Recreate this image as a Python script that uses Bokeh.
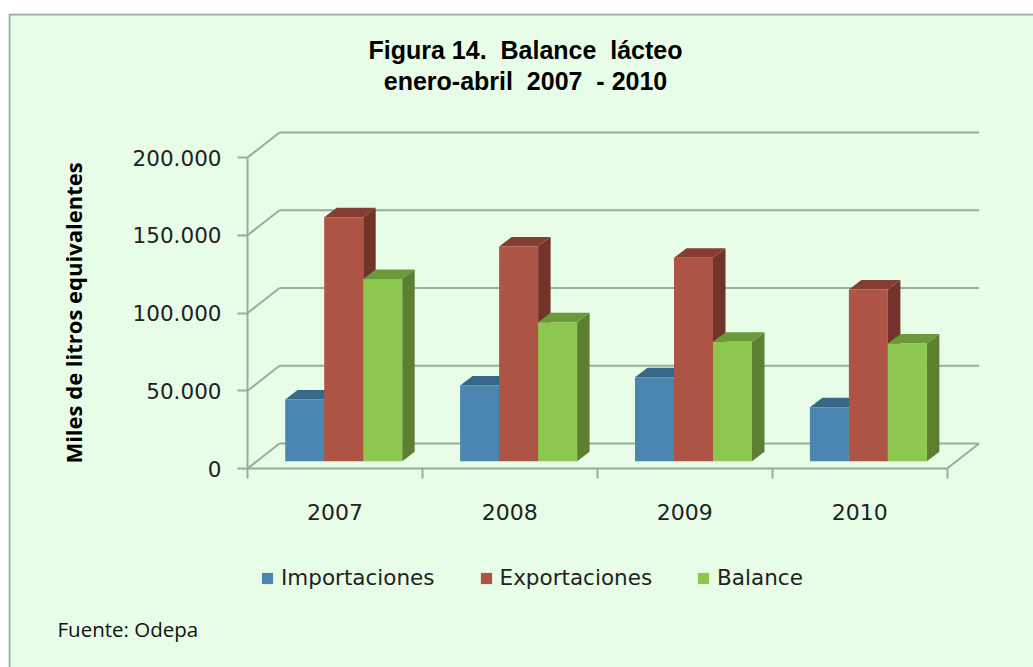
from bokeh.plotting import figure
from bokeh.embed import file_html
from bokeh.resources import INLINE
from bokeh.models import (Range1d, FixedTicker, LinearAxis, Label, Legend, LegendItem)

# ---- data ----
years = ["2007", "2008", "2009", "2010"]
importaciones = [39700, 48700, 54000, 34700]
exportaciones = [156900, 138100, 130800, 110400]
balance = [117200, 89400, 76800, 75700]
y_ticks = [0, 50000, 100000, 150000, 200000]
y_tick_labels = ["0", "50.000", "100.000", "150.000", "200.000"]
series_names = ["Importaciones", "Exportaciones", "Balance"]

# ---- styles and layout ----
BG = "#E8FDE8"
LINE = "#9AAD9A"
FRONT = ["#4A86AF", "#AE5445", "#8DC750"]
TOP = ["#376887", "#843D30", "#6A9A3A"]
SIDE = ["#376887", "#73332A", "#5D7F32"]
M_LEFT, M_TOP = 8, 13
CW, CH = 1025, 654
AXIS_PX_X, AXIS_PX_Y = 247 - M_LEFT, 468 - M_TOP   # where the axes cross, on the canvas
PX_X = 174.9           # pixels per category
PX_Y = 311 / 200000    # pixels per unit
WALL_DX, WALL_DY = 32 / PX_X, 25 / PX_Y
BAR_DX, BAR_DY = 12.5 / PX_X, 9.5 / PX_Y
BAR_W = 39 / PX_X
BAR_X0 = 37.7 / PX_X
BASE = 7.3 / PX_Y

x0, x1 = -AXIS_PX_X / PX_X, (CW - AXIS_PX_X) / PX_X
y0, y1 = -(CH - AXIS_PX_Y) / PX_Y, AXIS_PX_Y / PX_Y

p = figure(width=CW, height=CH, output_backend="svg", toolbar_location=None,
           x_range=Range1d(x0, x1), y_range=Range1d(y0, y1),
           x_axis_type=None, y_axis_type=None,
           min_border=0, background_fill_color=BG, border_fill_color=BG, outline_line_color=None)
p.margin = (M_TOP, 0, 0, M_LEFT)
p.grid.visible = False

# ---- frame's top and left edge ----
p.multi_line([[x0 + 1 / PX_X, x0 + 1 / PX_X, x1]], [[y0, y1 - 1 / PX_Y, y1 - 1 / PX_Y]],
             line_color=LINE, line_width=2)

# ---- axes ----
yax = LinearAxis(ticker=FixedTicker(ticks=y_ticks), bounds=(0, 200000), fixed_location=0,
                 major_label_overrides=dict(zip(y_ticks, y_tick_labels)),
                 axis_line_color=LINE, axis_line_width=2,
                 major_tick_line_color=LINE, major_tick_line_width=2,
                 major_tick_out=10, major_tick_in=0, minor_tick_out=0, minor_tick_in=0,
                 major_label_text_font="DejaVu Sans", major_label_text_font_size="21.5px",
                 major_label_text_color="#222222", major_label_standoff=16,
                 axis_label="Miles de litros equivalentes", axis_label_standoff=42,
                 axis_label_text_font="Open Sans", axis_label_text_font_style="bold",
                 axis_label_text_font_size="22px", axis_label_text_color="#000000")
p.add_layout(yax, "left")
n = len(years)
centers = [i + 0.5 for i in range(n)]
xax = LinearAxis(ticker=FixedTicker(ticks=centers, minor_ticks=list(range(n + 1))), bounds=(0, n),
                 fixed_location=0,
                 major_label_overrides=dict(zip(centers, years)),
                 axis_line_color=LINE, axis_line_width=2,
                 major_tick_out=0, major_tick_in=0,
                 minor_tick_line_color=LINE, minor_tick_line_width=2,
                 minor_tick_out=10, minor_tick_in=0,
                 major_label_text_font="DejaVu Sans", major_label_text_font_size="22px",
                 major_label_text_color="#222222", major_label_standoff=25)
p.add_layout(xax, "below")

# ---- back wall and floor ----
back_x = [[WALL_DX, n + WALL_DX] for _ in y_ticks]
back_y = [[t + WALL_DY, t + WALL_DY] for t in y_ticks]
diag_x = [[0, WALL_DX] for _ in y_ticks] + [[n, n + WALL_DX]]
diag_y = [[t, t + WALL_DY] for t in y_ticks] + [[0, WALL_DY]]
p.multi_line(back_x + diag_x, back_y + diag_y, line_color=LINE, line_width=2)

# ---- bars ----
items = []
for s, values in enumerate([importaciones, exportaciones, balance]):
    left = [i + BAR_X0 + s * BAR_W for i in range(n)]
    right = [x + BAR_W for x in left]
    top = [BASE + v for v in values]
    side_xs = [[r, r + BAR_DX, r + BAR_DX, r] for r in right]
    side_ys = [[BASE, BASE + BAR_DY, t + BAR_DY, t] for t in top]
    top_xs = [[l, l + BAR_DX, r + BAR_DX, r] for l, r in zip(left, right)]
    top_ys = [[t, t + BAR_DY, t + BAR_DY, t] for t in top]
    p.patches(side_xs, side_ys, fill_color=SIDE[s], line_color=None)
    p.patches(top_xs, top_ys, fill_color=TOP[s], line_color=None)
    front = p.quad(left=left, right=right, bottom=BASE, top=top,
                   fill_color=FRONT[s], line_color=None)
    items.append(LegendItem(label=series_names[s], renderers=[front]))

legend = Legend(items=items, orientation="horizontal", location=(260 - M_LEFT, M_TOP + CH - 590),
                background_fill_alpha=0, border_line_color=None,
                glyph_width=14, glyph_height=14, spacing=44, label_standoff=7,
                padding=0, margin=0,
                label_text_font="DejaVu Sans", label_text_font_size="21.5px",
                label_text_color="#222222")
p.add_layout(legend)

# ---- texts ----
def page_label(text, px, py, **kw):
    p.add_layout(Label(x=px - M_LEFT, y=M_TOP + CH - py, x_units="screen", y_units="screen",
                       text=text, **kw))

for line, py in [("Figura 14.\u00a0 Balance\u00a0 lácteo", 49), ("enero-abril\u00a0 2007 \u00a0- 2010", 80)]:
    page_label(line, 525, py, text_align="center", text_baseline="middle",
               text_font="Liberation Sans", text_font_style="bold", text_font_size="25px",
               text_color="#000000")
page_label("Fuente: Odepa", 57, 628, text_align="left", text_baseline="middle",
           text_font="Open Sans", text_font_size="20.5px", text_color="#111111")

open("out.html", "w").write(file_html(p, INLINE))
